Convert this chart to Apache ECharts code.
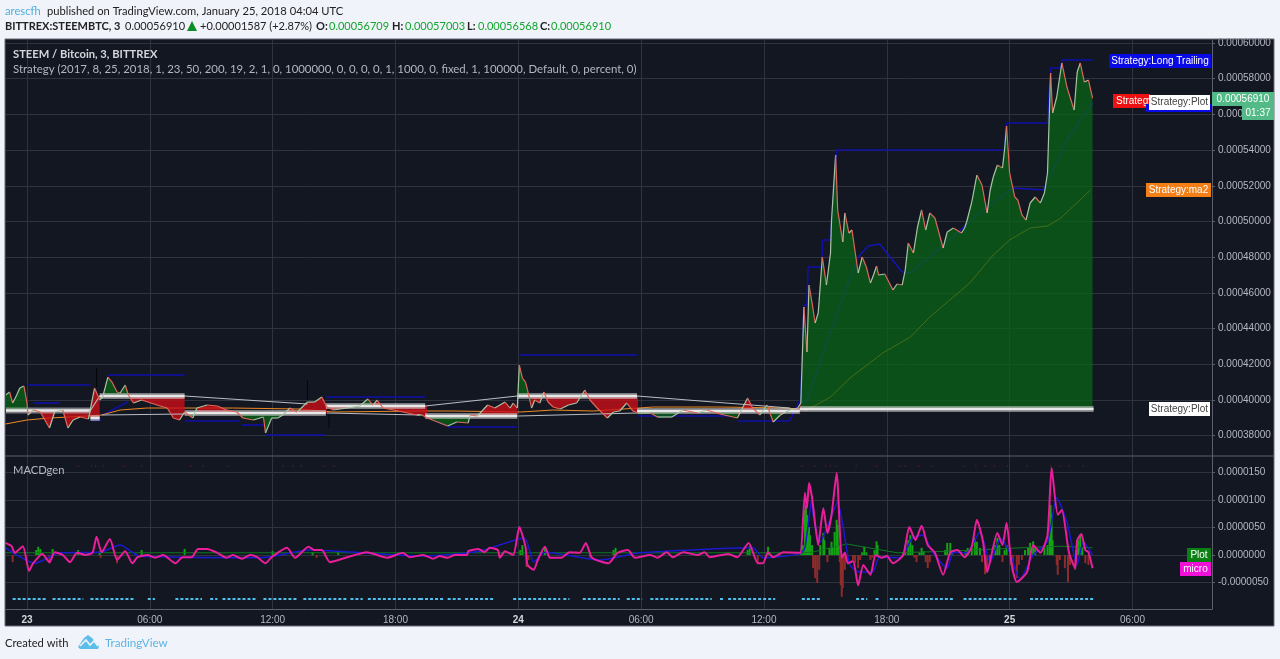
<!DOCTYPE html>
<html><head><meta charset="utf-8">
<style>html,body{margin:0;padding:0;background:#f0f3fa}#c{width:1280px;height:659px}</style>
<script src="https://cdn.jsdelivr.net/npm/echarts@6/dist/echarts.min.js"></script>
</head><body><div id="c"></div>
<script>
// x values are 3-minute bar numbers counted from Jan 23 00:00; prices are in satoshi (1e-8 BTC); MACD in 1e-7
const timeTicks=[0,120,240,360,480,600,720,840,960,1080];
const timeLabels=['23','06:00','12:00','18:00','24','06:00','12:00','18:00','25','06:00'];
const priceTicks=[38000,40000,42000,44000,46000,48000,50000,52000,54000,56000,58000,60000];
const macdTicks=[-50,0,50,100,150];
const closeSeries=[[-21,40280],[-17,40448],[-14,39832],[-10,40280],[-7,40672],[-3,40784],[0,39832],[1,39160],[6,39440],[13,39328],[22,38432],[27,39328],[35,39440],[40,38432],[45,38880],[52,39048],[60,38936],[66,40672],[71,40000],[74,40168],[79,41288],[83,41008],[88,40448],[91,40392],[96,40840],[99,40280],[104,39832],[112,40000],[118,39888],[127,39720],[137,39552],[143,38992],[149,38880],[154,39328],[162,38992],[166,39552],[176,39720],[186,39664],[195,39440],[205,39328],[211,38992],[221,38880],[231,39048],[233,38152],[239,38992],[245,38992],[250,39160],[257,39552],[264,39328],[274,39888],[281,39888],[288,40168],[293,39608],[299,39440],[313,39552],[325,39664],[333,40056],[338,39720],[342,40000],[348,39552],[358,39440],[367,39328],[381,39160],[386,39160],[391,38992],[401,38768],[411,38544],[420,38768],[431,38712],[433,39160],[440,39104],[450,39720],[457,39552],[467,39888],[472,39552],[475,39832],[479,39552],[481,41960],[484,41232],[487,41008],[489,40560],[493,39552],[496,40000],[501,39832],[505,40448],[509,39888],[514,39608],[521,39496],[529,39720],[537,39832],[545,40560],[550,40000],[557,39552],[567,38992],[573,39328],[579,39384],[586,39832],[592,39384],[597,39272],[609,39272],[616,39048],[630,39048],[641,39440],[655,39272],[664,39440],[677,39216],[694,38992],[704,40112],[709,39552],[716,39160],[723,39720],[729,38768],[736,39160],[745,39440],[753,39552],[756,39832],[759,45211],[762,42690],[764,46443],[767,45435],[770,44314],[773,44875],[777,48012],[781,46443],[785,48236],[786,50084],[790,53726],[792,50645],[797,48852],[799,50477],[803,49356],[806,49524],[812,47115],[816,48012],[820,47452],[824,46555],[827,47003],[830,47508],[832,47003],[838,47059],[846,46163],[850,46499],[855,46443],[858,47283],[861,48796],[866,48236],[870,49692],[874,50645],[878,49524],[882,50477],[887,50196],[895,48516],[899,49412],[905,49636],[913,49356],[916,49636],[918,49972],[923,51093],[928,52605],[933,52045],[938,50477],[941,51765],[944,52493],[948,53166],[953,52997],[955,54006],[957,55350],[960,52717],[965,51373],[968,51205],[972,50365],[976,50084],[980,51037],[985,51373],[990,51037],[994,51597],[997,52717],[1000,58319],[1002,56079],[1006,56975],[1011,58880],[1016,57535],[1019,56975],[1023,56247],[1026,58375],[1029,58880],[1033,57815],[1037,57927],[1041,56910]];
// [from bar, to bar, level] of the thick Strategy:Plot line
const plotLevels=[[-21,62,39412],[62,71,38992],[71,154,40224],[154,292,39272],[292,389,39664],[389,479,39104],[479,596,40224],[596,755,39384],[755,1042,39496]];
const plotLinks=[[62,39412,71,40224],[73,39160,154,39216],[154,40224,274,39776],[293,39272,384,39160],[389,39664,479,40224],[480,39104,596,39272],[596,40224,745,39552]];
// [up to bar, side of the fill]
const fillSpans=[[0,'g'],[71,'r'],[99,'g'],[154,'r'],[166,'g'],[205,'r'],[250,'g'],[325,'r'],[338,'g'],[389,'r'],[433,'g'],[479,'r'],[491,'g'],[596,'r'],[638,'g'],[672,'r'],[698,'g'],[712,'r'],[736,'g'],[755,'r'],[1042,'g']];
const longTrailing=[[0,40840,62,40840],[6,39832,32,39832],[62,38880,73,38880],[74,39160,98,39888],[79,41400,154,41400],[154,38824,208,38824],[210,38600,231,38600],[233,38040,292,38040],[292,40168,389,40168],[397,38880,411,38544],[411,38488,479,38488],[481,42521,596,42521],[597,39104,687,39104],[694,38824,745,38824],[745,38824,756,40112],[756,40112,759,45322],[759,45322,762,45322],[762,45322,763,47451],[763,47451,777,47451],[777,47451,777,48963],[777,48963,785,48963],[785,48963,791,54005],[791,54005,955,54005],[955,54005,957,55518],[957,55518,997,55518],[997,55518,1000,58599],[1000,58599,1010,58599],[1010,58599,1011,59047],[1011,59047,1041,59047]];
const fastAverage=[[756,39832],[762,40000],[782,43361],[801,46330],[812,48012],[822,48628],[833,48740],[840,48236],[855,47171],[863,47115],[882,48012],[895,48684],[931,50476],[963,51877],[993,51765],[1016,54566],[1041,56639]];
const ma2Line=[[-21,38656],[0,38880],[22,38992],[59,39104],[73,39160],[91,39440],[117,39552],[152,39552],[201,39552],[267,39496],[299,39328],[384,39384],[416,39384],[482,39328],[514,39440],[553,39384],[612,39608],[677,39608],[743,39552],[762,39440],[785,40168],[804,41232],[836,42633],[863,43529],[882,44650],[913,46163],[921,46555],[944,48124],[960,48964],[980,49636],[997,49748],[1010,50196],[1039,51764]];
const blackWicks=[[68,41792,68,40728],[274,41120,274,40000],[295,39160,295,38432]];
const macdMicro=[[-21,22],[-15,16],[-12,4],[-4,16],[2,-29],[6,-15],[15,2],[22,-13],[27,5],[35,0],[42,-13],[49,4],[57,0],[64,4],[68,33],[73,5],[81,29],[88,-9],[96,7],[103,-15],[108,-4],[118,0],[125,-5],[133,0],[145,-15],[152,-4],[161,-4],[167,11],[176,11],[186,4],[195,-5],[201,0],[210,-7],[218,0],[225,-4],[233,-15],[239,-4],[254,13],[262,-5],[275,15],[281,9],[288,9],[296,-13],[313,-4],[332,5],[352,-5],[367,4],[374,-4],[387,0],[397,-7],[403,-2],[411,-5],[418,0],[430,0],[431,7],[441,11],[447,5],[452,13],[460,9],[462,-5],[467,7],[475,0],[481,51],[487,15],[489,-18],[495,-27],[499,-9],[506,15],[511,-5],[522,-5],[530,5],[540,4],[546,22],[552,-5],[568,-15],[577,4],[587,9],[594,-5],[609,0],[616,-5],[625,5],[631,-4],[641,5],[655,0],[662,5],[667,-4],[685,2],[694,-4],[705,22],[714,-15],[719,-15],[724,5],[729,-4],[739,5],[755,4],[756,4],[760,113],[762,85],[764,131],[767,104],[773,18],[778,85],[782,40],[786,73],[791,149],[796,-5],[799,4],[802,-15],[807,-11],[812,-55],[817,-18],[824,-36],[829,0],[835,-5],[840,-2],[846,-15],[856,0],[862,51],[868,27],[874,53],[880,18],[887,4],[895,-36],[902,5],[909,9],[916,-4],[923,15],[928,64],[934,24],[938,-31],[948,40],[953,18],[957,58],[962,-18],[967,-49],[977,-31],[983,18],[990,4],[997,36],[1001,158],[1007,73],[1011,82],[1018,4],[1024,-24],[1026,27],[1030,38],[1034,9],[1037,5],[1041,-24]];
const macdSignal=[[-21,13],[8,-15],[32,4],[71,5],[91,18],[110,-2],[228,-5],[276,9],[384,-2],[442,7],[486,31],[495,-13],[506,5],[560,-9],[599,4],[709,13],[719,-5],[755,2],[760,13],[767,104],[768,73],[775,24],[782,51],[792,96],[797,55],[804,-18],[814,-31],[826,-31],[833,-4],[853,-5],[865,31],[875,36],[885,5],[899,-24],[905,5],[918,4],[931,42],[941,-13],[951,31],[960,5],[970,-45],[983,0],[997,24],[1006,104],[1016,60],[1026,-18],[1032,24],[1041,0]];
const macdSlow=[[-21,4],[756,4],[767,5],[801,20],[850,4],[902,7],[970,13],[1010,16],[1041,13]];
const histogramUp=[[9,9],[11,15],[13,11],[25,11],[50,9],[71,7],[112,9],[154,11],[240,7],[279,5],[304,5],[482,9],[484,18],[506,15],[573,9],[575,13],[704,9],[706,16],[724,15],[756,4],[758,18],[760,82],[761,91],[762,73],[763,51],[764,51],[765,36],[767,18],[775,18],[778,40],[779,27],[784,13],[786,24],[787,13],[789,42],[791,64],[792,55],[793,18],[816,5],[818,15],[820,5],[828,9],[830,25],[831,18],[856,5],[858,18],[861,27],[863,36],[865,18],[872,5],[874,13],[876,7],[897,9],[899,22],[902,22],[904,9],[917,7],[919,13],[923,13],[926,31],[928,24],[931,13],[946,18],[948,31],[950,18],[955,9],[957,18],[975,9],[978,13],[980,22],[983,25],[985,13],[994,13],[997,18],[999,36],[1000,91],[1001,73],[1002,27],[1025,9],[1027,27],[1029,36],[1031,13]];
const histogramDown=[[-14,-13],[22,-15],[72,-5],[88,-15],[283,-5],[462,-5],[488,-22],[490,-9],[550,-5],[714,-13],[768,-24],[770,-42],[772,-51],[774,-27],[782,-13],[794,-13],[795,-55],[796,-76],[797,-60],[799,-27],[807,-9],[809,-15],[812,-24],[814,-9],[824,-9],[826,-5],[867,-5],[869,-13],[878,-13],[880,-24],[882,-13],[933,-13],[936,-35],[938,-27],[940,-9],[953,-13],[961,-18],[963,-31],[967,-42],[969,-18],[972,-9],[1006,-18],[1007,-36],[1009,-9],[1014,-24],[1017,-49],[1019,-18],[1024,-27],[1034,-15],[1037,-18]];
// [from bar, to bar] runs of the cyan marks along the bottom of the MACD pane
const cyanRuns=[[-14,20],[25,55],[62,106],[118,125],[145,171],[179,186],[191,225],[231,264],[270,313],[316,328],[333,384],[384,407],[411,425],[428,457],[475,521],[524,530],[543,579],[586,601],[609,669],[677,680],[685,731],[757,775],[810,821],[829,833],[843,906],[915,968],[980,1042]];
const cyanLevel=-80;
const faintDots=[50,63,67,75,95,112,160,172,196,250,260,268,290,300,757,770,780,785,790,810,830,853,858,871,884,915,927,936,945,958,977,1000,1009,1018,1032];
const faintLevel=162;

const AXIS='#5d606b', GRIDC='#2f333e', LABEL='#b4b7c0';
const xMin=-20.5, xMax=1157.7;
const fillColors={g:'rgba(8,100,22,0.74)',r:'rgba(205,14,24,0.78)'};
function levelAt(b){for(const s of plotLevels){if(b<=s[1])return s[2];}return plotLevels[plotLevels.length-1][2];}
function sideAt(b){for(const s of fillSpans){if(b<=s[0])return s[1];}return 'g';}

function segSeries(name,segs,color,width,z,xi,dash){
  return {name,type:'custom',xAxisIndex:xi||0,yAxisIndex:xi||0,z,silent:true,animation:false,clip:true,
    encode:{x:[0,2],y:[1,3]},data:segs,
    renderItem(p,api){
      const a=api.coord([api.value(0),api.value(1)]),b=api.coord([api.value(2),api.value(3)]);
      const col=typeof color==='function'?color(api.value(1),api.value(3)):color;
      return {type:'line',shape:{x1:a[0],y1:a[1],x2:b[0],y2:b[1]},style:{stroke:col,lineWidth:width,lineCap:'butt',lineDash:dash||null}};
    }};
}
function lineSeries(name,data,color,width,z,xi,smooth){
  return {name,type:'line',xAxisIndex:xi||0,yAxisIndex:xi||0,data,showSymbol:false,symbol:'none',z,silent:true,animation:false,smooth:smooth||false,
    lineStyle:{color,width}};
}
const closeSegs=closeSeries.slice(1).map((p,i)=>[closeSeries[i][0],closeSeries[i][1],p[0],p[1]]);
// consecutive close segments that share a level and a side are one filled shape
const fillRuns=[];
closeSegs.forEach(s=>{
  const m=(s[0]+s[2])/2,lv=levelAt(m),sd=sideAt(m),last=fillRuns[fillRuns.length-1];
  if(last&&last.lv===lv&&last.sd===sd){last.pts.push([s[2],s[3]]);}
  else{fillRuns.push({lv,sd,pts:[[s[0],s[1]],[s[2],s[3]]]});}
});
const plotSegs=plotLevels.map(s=>[s[0],s[2],s[1],s[2]]);
const fillSeries={name:'fill',type:'custom',xAxisIndex:0,yAxisIndex:0,z:5,silent:true,animation:false,clip:true,
  encode:{x:0,y:1},data:fillRuns.map(r=>[r.pts[0][0],r.lv]),
  renderItem(p,api){
    const r=fillRuns[p.dataIndex],first=r.pts[0],end=r.pts[r.pts.length-1];
    const pts=[[first[0],r.lv]].concat(r.pts,[[end[0],r.lv]]).map(q=>api.coord(q));
    return {type:'polygon',shape:{points:pts},style:{fill:fillColors[r.sd]}};
  }};

const series=[
  lineSeries('ma2',ma2Line,'#f08a24',1,3),
  segSeries('Long Trailing',longTrailing,'#1010a8',1.6,3),
  lineSeries('ma1',fastAverage,'#1414b4',1.5,3),
  fillSeries,
  segSeries('Plot link',plotLinks,'#b9bcc2',1.1,6),
  segSeries('Plot glow',plotSegs,'rgba(205,205,205,0.55)',6,6),
  segSeries('Plot',plotSegs,'#e8e8e8',2.6,7),
  segSeries('wicks',blackWicks,'#05060a',1,8),
  segSeries('close',closeSegs,(a,b)=>b<a?'#e0665a':'#a9c4a4',1.2,9),
  {name:'hist up',type:'bar',xAxisIndex:1,yAxisIndex:1,data:histogramUp,barWidth:2,barGap:'-100%',itemStyle:{color:'#13a313'},z:3,silent:true,animation:false},
  {name:'hist down',type:'bar',xAxisIndex:1,yAxisIndex:1,data:histogramDown,barWidth:2,barGap:'-100%',itemStyle:{color:'#8f2b2b'},z:3,silent:true,animation:false},
  lineSeries('slow',macdSlow,'#0d7a1e',1,4,1),
  lineSeries('signal',macdSignal,'#1a1ad0',1.5,5,1,0.2),
  lineSeries('micro',macdMicro,'#ea1e9b',2,6,1,0.2),
  segSeries('cyan',cyanRuns.map(r=>[r[0],cyanLevel,r[1],cyanLevel]),'#4fc0ee',2,4,1,[3,2]),
  {name:'faint',type:'scatter',xAxisIndex:1,yAxisIndex:1,data:faintDots.map(b=>[b,faintLevel]),symbolSize:1.5,itemStyle:{color:'#6a2230'},z:2,silent:true,animation:false}
];

const priceFmt=v=>(v*1e-8).toFixed(8), macdFmt=v=>(v*1e-7).toFixed(7);
const xBase={type:'value',min:xMin,max:xMax,scale:false,
  splitLine:{show:true,lineStyle:{color:GRIDC,width:1}},axisTick:{show:false,customValues:timeTicks}};
const yBase={type:'value',position:'right',axisLine:{show:true,onZero:false,lineStyle:{color:AXIS}},
  axisTick:{show:true,length:3,lineStyle:{color:AXIS}},splitLine:{show:true,lineStyle:{color:GRIDC,width:1}}};

const TF='"Liberation Sans",Arial,sans-serif', HF='Lato,"Open Sans",sans-serif';
const g=[];
function rect(x0,y0,x1,y1,fill,z){g.push({type:'rect',silent:true,z:z,shape:{x:x0,y:y0,width:x1-x0,height:y1-y0},style:{fill}});}
function text(x,y,t,o){o=o||{};g.push({type:'text',silent:true,z:o.z||50,x,y,style:{text:t,fill:o.fill||'#222',font:(o.weight||'normal')+' '+(o.size||11.2)+'px '+(o.font||HF),textVerticalAlign:'middle',textBaseline:'middle',textAlign:o.align||'left'}});}
rect(5,39,1274,626,'#131722',-20);
g.push({type:'line',silent:true,z:40,shape:{x1:5,y1:456,x2:1274,y2:456},style:{stroke:AXIS,lineWidth:1}});
g.push({type:'rect',silent:true,z:40,shape:{x:5,y:39,width:1269,height:587},style:{fill:'none',stroke:'#6a6d78',lineWidth:1}});
// header
text(5,11,'arescfh',{fill:'#4fb0dc'});
text(47,11,'published on TradingView.com, January 25, 2018 04:04 UTC');
text(5,26,'BITTREX:STEEMBTC, 3',{weight:'bold',size:11});
text(125,26,'0.00056910',{size:11});
g.push({type:'polygon',silent:true,z:50,shape:{points:[[187,31],[197,31],[192,21]]},style:{fill:'#0a8f25'}});
text(200,26,'+0.00001587 (+2.87%)',{size:11});
[[316,'O:',329,'0.00056709'],[392,'H:',405,'0.00057003'],[467,'L:',478,'0.00056568'],[540,'C:',551,'0.00056910']].forEach(r=>{
  text(r[0],26,r[1],{weight:'bold',size:11});text(r[2],26,r[3],{fill:'#12a52c',size:11});});
// pane captions
text(13,54,'STEEM / Bitcoin, 3, BITTREX',{fill:'#d4d6dc',weight:'bold'});
text(13,69,'Strategy (2017, 8, 25, 2018, 1, 23, 50, 200, 19, 2, 1, 0, 1000000, 0, 0, 0, 0, 1, 1000, 0, fixed, 1, 100000, Default, 0, percent, 0)',{fill:'#b4b7c0',size:11.4});
text(13,470,'MACDgen',{fill:'#b4b7c0'});
// footer
text(5,643,'Created with');
g.push({type:'polygon',silent:true,z:50,shape:{points:[[78,647],[84,638],[88,635],[92,638],[99,646],[98,649],[80,649]]},style:{fill:'#5cbde8'}});
g.push({type:'polyline',silent:true,z:51,shape:{points:[[80,646],[86,640],[90,645],[94,641],[98,646]]},style:{stroke:'#f0f3fa',lineWidth:1.6,fill:'none'}});
text(105,643,'TradingView',{fill:'#5cb5e2',size:11.6});
// right-hand tags
function tag(x0,y0,x1,y1,bg,fg,t,z,tx){rect(x0,y0,x1,y1,bg,z);if(t)text(tx==null?(x0+x1)/2:tx,(y0+y1)/2,t,{fill:fg,font:TF,size:10,z:z+1,align:tx==null?'center':'left'});}
tag(1109,54,1211,68,'#0a0ae6','#fff','Strategy:Long Trailing',60);
tag(1113,94,1150,108,'#ee1111','#fff','Strategy',60,1116);
rect(1146,104,1211,112,'#0a0ae6',62);
tag(1149,95,1210,110,'#ffffff','#444','Strategy:Plot',64);
tag(1146,183,1211,197,'#f57f17','#fff','Strategy:ma2',60);
tag(1149,402,1210,416,'#ffffff','#444','Strategy:Plot',60);
tag(1212,92,1274,106,'#53b987','#fff','0.00056910',60);
tag(1242,106,1274,120,'#53b987','#fff','01:37',60);
tag(1187,548,1211,562,'#0a7f12','#fff','Plot',60);
tag(1180,562,1211,576,'#f010d8','#fff','micro',60);

const chart=echarts.init(document.getElementById('c'),null,{renderer:'canvas'});
chart.setOption({
  animation:false,backgroundColor:'#f0f3fa',
  tooltip:{show:false},
  grid:[{left:6,top:40,width:1206,height:416,containLabel:false},{left:6,top:456,width:1206,height:153,containLabel:false}],
  xAxis:[
    Object.assign({},xBase,{gridIndex:0,axisLine:{show:false,onZero:false},axisLabel:{show:false,customValues:timeTicks}}),
    Object.assign({},xBase,{gridIndex:1,axisLine:{show:true,onZero:false,lineStyle:{color:AXIS}},
      axisLabel:{show:true,customValues:timeTicks,margin:6,color:LABEL,fontFamily:TF,fontSize:10,hideOverlap:false,
        formatter:v=>{const t=timeLabels[timeTicks.indexOf(v)];return t.length===2?'{b|'+t+'}':t;},
        rich:{b:{fontWeight:'bold',color:'#d6d8dd',fontFamily:TF,fontSize:10}}}})
  ],
  yAxis:[
    Object.assign({},yBase,{gridIndex:0,min:36864,max:60168,
      axisTick:Object.assign({},yBase.axisTick,{customValues:priceTicks}),
      axisLabel:{customValues:priceTicks,formatter:priceFmt,color:LABEL,fontFamily:TF,fontSize:10,margin:6}}),
    Object.assign({},yBase,{gridIndex:1,min:-98.2,max:180,
      axisTick:Object.assign({},yBase.axisTick,{customValues:macdTicks}),
      axisLabel:{customValues:macdTicks,formatter:macdFmt,color:LABEL,fontFamily:TF,fontSize:10,margin:6}})
  ],
  graphic:{elements:g},
  series
});
</script></body></html>
